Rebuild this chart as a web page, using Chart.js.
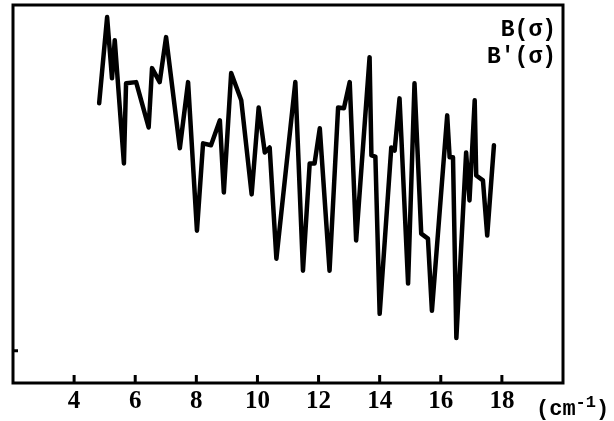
<!DOCTYPE html>
<html>
<head>
<meta charset="utf-8">
<script src="https://cdn.jsdelivr.net/npm/chart.js@4/dist/chart.umd.min.js"></script>
<style>
    body { margin: 0; background: #fff; }
    #wrap { position: relative; width: 614px; height: 421px; }
    .lbl { position: absolute; font-family: "Liberation Mono", monospace; font-weight: bold; color: #000; white-space: pre; }
    .lbl sup { font-size: 17px; }
</style>
</head>
<body>
<div id="wrap">
    <canvas id="spectrum"></canvas>
    <div class="lbl" style="right: 58px; top: 17px; font-size: 23px;">B(σ)</div>
    <div class="lbl" style="right: 58px; top: 44px; font-size: 23px;">B'(σ)</div>
    <div class="lbl" style="left: 536px; top: 393px; font-size: 22px;">(cm<sup>-1</sup>)</div>
</div>
<script>
// wavenumber (cm-1) and B(sigma) in arbitrary units
const sigma = [4.82, 5.08, 5.24, 5.33, 5.63, 5.70, 6.03, 6.44, 6.55, 6.80,
    7.01, 7.46, 7.73, 8.02, 8.22, 8.48, 8.77, 8.90, 9.14, 9.47,
    9.81, 10.04, 10.24, 10.40, 10.62, 11.24, 11.49, 11.71, 11.87, 12.04,
    12.36, 12.64, 12.83, 13.02, 13.23, 13.67, 13.73, 13.86, 14.00, 14.38,
    14.49, 14.65, 14.71, 14.93, 15.14, 15.36, 15.58, 15.71, 16.21, 16.29,
    16.40, 16.51, 16.83, 16.94, 17.11, 17.16, 17.38, 17.52, 17.74];
const bSigma = [74.0, 96.8, 80.6, 90.7, 58.1, 79.3, 79.6, 67.6, 83.3, 79.6,
    91.5, 62.1, 79.6, 40.3, 63.4, 62.9, 69.5, 50.4, 82.0, 74.8,
    49.9, 72.9, 61.0, 62.3, 32.9, 79.6, 29.7, 58.1, 58.1, 67.4,
    29.7, 72.9, 72.7, 79.6, 37.7, 86.2, 60.2, 59.9, 18.3, 62.3,
    61.5, 75.3, 65.0, 26.3, 79.3, 39.5, 38.2, 19.1, 70.8, 59.7,
    59.7, 11.9, 61.0, 48.3, 74.8, 54.9, 53.6, 39.0, 62.9];
const xTicks = [4, 6, 8, 10, 12, 14, 16, 18];
const yTicks = [8.5];

// frame box + inward tick marks
const framePlugin = {
    id: 'frame',
    afterDatasetsDraw(chart) {
        const { ctx, chartArea: a, scales } = chart;
        ctx.save();
        ctx.strokeStyle = '#000';
        ctx.lineWidth = 3;
        ctx.strokeRect(a.left, a.top, a.right - a.left, a.bottom - a.top);
        ctx.beginPath();
        xTicks.forEach(v => {
            const px = scales.x.getPixelForValue(v);
            ctx.moveTo(px, a.bottom);
            ctx.lineTo(px, a.bottom - 8);
        });
        yTicks.forEach(v => {
            const py = scales.y.getPixelForValue(v);
            ctx.moveTo(a.left, py);
            ctx.lineTo(a.left + 5, py);
        });
        ctx.stroke();
        ctx.restore();
    }
};

new Chart(document.getElementById('spectrum'), {
    type: 'line',
    data: {
        datasets: [{
            data: sigma.map((s, i) => ({ x: s, y: bSigma[i] })),
            borderColor: '#000',
            borderWidth: 4.5,
            borderJoinStyle: 'round',
            borderCapStyle: 'round',
            pointRadius: 0,
            tension: 0
        }]
    },
    options: {
        responsive: true,
        maintainAspectRatio: false,
        animation: false,
        layout: { padding: { left: 13, right: 51, top: 5, bottom: 0 } },
        plugins: { legend: { display: false }, tooltip: { enabled: false } },
        scales: {
            x: {
                type: 'linear', min: 2, max: 20,
                afterBuildTicks: axis => { axis.ticks = xTicks.map(v => ({ value: v })); },
                grid: { display: false, drawTicks: false },
                border: { display: false },
                ticks: {
                    padding: 4, color: '#000', maxRotation: 0, autoSkip: false,
                    font: { family: 'Liberation Serif', size: 25, weight: 'bold' }
                }
            },
            y: { min: 0, max: 100, display: false }
        }
    },
    plugins: [framePlugin]
});
</script>
</body>
</html>
